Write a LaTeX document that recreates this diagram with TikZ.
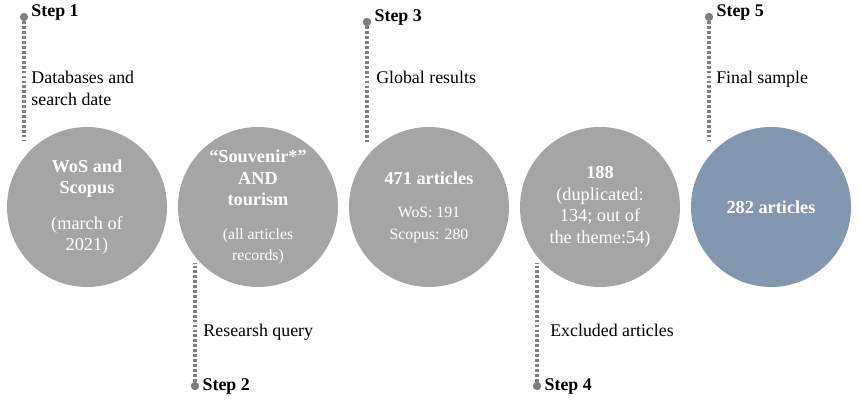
\documentclass[tikz,border=0pt]{standalone}
\usepackage{fontspec}
\setmainfont{Liberation Serif}
\usepackage{xcolor}
\usetikzlibrary{positioning}

\definecolor{stagegray}{HTML}{A5A5A5}
\definecolor{stageblue}{HTML}{8497B0}
\definecolor{dotgray}{HTML}{7F7F7F}

\newcommand{\stagesmall}{\fontsize{11.2}{13.2}\selectfont}

\begin{document}
\begin{tikzpicture}[
    every node/.style={font=\fontsize{12.7}{15.3}\selectfont},
    stage/.style={circle, fill=stagegray, minimum size=4cm, inner sep=0pt, align=center, text=white,
        font=\fontsize{13}{15.3}\selectfont},
    stepdot/.style={circle, fill=dotgray, minimum size=0.21cm, inner sep=0pt},
    stepline/.style={dotgray, line width=2.2pt, dash pattern=on 2pt off 1.5pt},
    steplabel/.style={font=\fontsize{12.7}{15.3}\selectfont\bfseries, inner sep=0pt},
    stepnote/.style={inner sep=0pt, align=left, anchor=north west}
]
    \useasboundingbox (0,0) rectangle (21.525,10.125);

    % stages
    \node[stage] (wos) at (2.175,4.95) {\textbf{WoS and}\\\textbf{Scopus}\\[0.35cm](march of\\2021)};
    \node[stage] (query) at (6.45,4.95) {\textbf{“Souvenir*”}\\\textbf{AND}\\\textbf{tourism}\\[0.3cm]\stagesmall(all articles\\\stagesmall records)};
    \node[stage] (global) at (10.725,4.95) {\textbf{471 articles}\\[0.3cm]\stagesmall WoS: 191\\\stagesmall Scopus: 280};
    \node[stage] (excluded) at (15.0,4.95) {\textbf{188}\\(duplicated:\\134; out of\\the theme:54)};
    \node[stage, fill=stageblue] (final) at (19.275,4.95) {\textbf{282 articles}};

    % step 1
    \node[stepdot] (d1) at (0.6,9.7) {};
    \coordinate (e1) at (0.6,6.625);
    \draw[stepline] (d1) -- (e1);
    \node[steplabel, anchor=base west] (t1) at (0.78,9.7) {Step 1};
    \node[stepnote] (n1) at (0.78,8.35) {Databases and\\search date};

    % step 2
    \node[stepdot] (d2) at (4.875,0.475) {};
    \coordinate (e2) at (4.875,3.55);
    \draw[stepline] (d2) -- (e2);
    \node[steplabel, anchor=west] (t2) at (5.06,0.475) {Step 2};
    \node[stepnote] (n2) at (5.08,2.02) {Researsh query};

    % step 3
    \node[stepdot] (d3) at (9.175,9.575) {};
    \coordinate (e3) at (9.175,6.55);
    \draw[stepline] (d3) -- (e3);
    \node[steplabel, anchor=base west] (t3) at (9.36,9.575) {Step 3};
    \node[stepnote] (n3) at (9.4,8.35) {Global results};

    % step 4
    \node[stepdot] (d4) at (13.425,0.475) {};
    \coordinate (e4) at (13.425,3.55);
    \draw[stepline] (d4) -- (e4);
    \node[steplabel, anchor=west] (t4) at (13.61,0.475) {Step 4};
    \node[stepnote] (n4) at (13.75,2.02) {Excluded articles};

    % step 5
    \node[stepdot] (d5) at (17.725,9.7) {};
    \coordinate (e5) at (17.725,6.625);
    \draw[stepline] (d5) -- (e5);
    \node[steplabel, anchor=base west] (t5) at (17.91,9.7) {Step 5};
    \node[stepnote] (n5) at (17.9,8.35) {Final sample};
\end{tikzpicture}
\end{document}
